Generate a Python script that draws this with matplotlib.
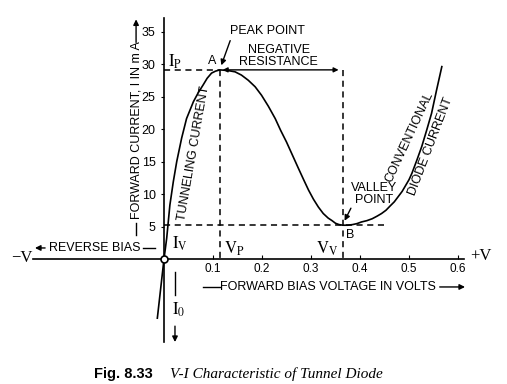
import matplotlib
matplotlib.use('Agg')
import matplotlib.pyplot as plt

plt.rcParams['mathtext.fontset'] = 'stix'
sans = ['Liberation Sans', 'DejaVu Sans']
serif = ['Liberation Serif', 'DejaVu Serif']

# V-I curve of the tunnel diode (volts, mA)
volts = [-0.0136, 0.0, 0.0055, 0.012, 0.019, 0.026, 0.036, 0.046, 0.060, 0.070, 0.080,
         0.088, 0.097, 0.105, 0.114, 0.130, 0.145, 0.158, 0.172, 0.186, 0.199,
         0.213, 0.227, 0.238, 0.250, 0.262, 0.274, 0.285, 0.295, 0.305, 0.315,
         0.325, 0.335, 0.343, 0.350, 0.357, 0.365, 0.375, 0.385, 0.394, 0.403,
         0.414, 0.425, 0.435, 0.444, 0.453, 0.462, 0.470, 0.478, 0.486, 0.493,
         0.500, 0.506, 0.516, 0.526, 0.536, 0.546, 0.556, 0.567]
current = [-9.1, 0.0, 3.2, 8.3, 11.9, 15.0, 18.6, 21.6, 24.2, 25.6, 26.8,
           27.8, 28.6, 28.9, 29.1, 29.0, 28.8, 28.3, 27.5, 26.5, 25.2,
           23.5, 21.6, 19.8, 18.0, 16.0, 14.0, 12.2, 10.6, 9.2, 8.0,
           7.0, 6.3, 5.9, 5.5, 5.3, 5.2, 5.2, 5.3, 5.45, 5.7,
           5.9, 6.2, 6.6, 7.0, 7.5, 8.2, 8.8, 9.6, 10.4, 11.3,
           12.2, 13.2, 15.2, 17.3, 19.8, 22.4, 25.9, 29.6]

v_peak, i_peak = 0.114, 29.1
v_valley, i_valley = 0.365, 5.2

x_ticks = [0.1, 0.2, 0.3, 0.4, 0.5, 0.6]
x_labels = ['0.1', '0.2', '0.3', '0.4', '0.5', '0.6']
y_ticks = [5, 10, 15, 20, 25, 30, 35]

fig = plt.figure(figsize=(5.07, 3.84), dpi=100)
ax = fig.add_axes([0, 0, 1, 1])
ax.set_xlim(-0.3347, 0.7)
ax.set_ylim(-19.23, 39.85)

# axes through the origin
for side in ['top', 'right']:
    ax.spines[side].set_visible(False)
ax.spines['left'].set_position(('data', 0))
ax.spines['bottom'].set_position(('data', 0))
ax.spines['left'].set_bounds(-12.8, 37.1)
ax.spines['bottom'].set_bounds(-0.267, 0.612)
ax.spines['left'].set_linewidth(1.2)
ax.spines['bottom'].set_linewidth(1.2)

ax.set_xticks(x_ticks)
ax.set_xticklabels(x_labels, fontsize=8.5, family=sans)
ax.set_yticks(y_ticks)
ax.set_yticklabels([str(t) for t in y_ticks], fontsize=9, family=sans)
ax.tick_params(axis='x', direction='in', length=3, pad=3)
ax.tick_params(axis='y', direction='out', length=2, pad=4)

# characteristic
ax.plot(volts, current, color='black', lw=1.2, zorder=3)
ax.plot([0], [0], 'o', ms=5, mfc='white', mec='black', mew=1.2, zorder=5)

# dashed guides
dash = dict(color='black', lw=1.1, ls=(0, (4, 3)))
ax.plot([0, v_peak], [i_peak, i_peak], **dash)
ax.plot([v_peak, v_peak], [i_peak, 0], **dash)
ax.plot([v_valley, v_valley], [i_peak, 0], **dash)
ax.plot([0, 0.452], [i_valley, i_valley], **dash)

arrow = dict(arrowstyle='-|>', color='black', lw=1.0, mutation_scale=8)
# negative resistance span
ax.annotate('', xy=(v_valley - 0.003, i_peak), xytext=(v_peak, i_peak),
            arrowprops=dict(arrowstyle='<|-|>', color='black', lw=1.0, mutation_scale=7))
ax.annotate('', xy=(v_peak + 0.001, i_peak + 0.3), xytext=(0.137, 34.0), arrowprops=arrow)
ax.annotate('', xy=(v_valley + 0.001, i_valley + 0.3), xytext=(0.384, 8.2), arrowprops=arrow)

txt = dict(family=sans, fontsize=9, ha='center', va='center', color='black')
ax.text(0.212, 35.1, 'PEAK POINT', **txt)
ax.text(0.234, 31.3, 'NEGATIVE\nRESISTANCE', linespacing=1.0, **txt)
ax.text(0.098, 30.4, 'A', **txt)
ax.text(0.380, 3.7, 'B', **txt)
ax.text(0.429, 10.0, 'VALLEY\nPOINT', linespacing=1.0, **txt)
ax.text(0.060, 16.3, 'TUNNELING CURRENT', rotation=80, **txt)
ax.text(0.500, 18.8, 'CONVENTIONAL', rotation=65, **txt)
ax.text(0.544, 17.3, 'DIODE CURRENT', rotation=69, **txt)
ax.text(-0.141, 1.7, 'REVERSE BIAS', **txt)
ax.text(0.335, -4.3, 'FORWARD BIAS VOLTAGE IN VOLTS', **txt)
ax.text(-0.057, 19.8, 'FORWARD CURRENT, I IN m A', rotation=90, **txt)

# arrows and dashes around the axis titles
ax.annotate('', xy=(-0.269, 1.7), xytext=(-0.237, 1.7), arrowprops=arrow)
ax.plot([-0.043, -0.018], [1.7, 1.7], color='black', lw=1.0)
ax.annotate('', xy=(0.620, -4.3), xytext=(0.557, -4.3), arrowprops=arrow)
ax.plot([0.080, 0.114], [-4.3, -4.3], color='black', lw=1.0)
ax.annotate('', xy=(-0.057, 37.3), xytext=(-0.057, 32.9), arrowprops=arrow)
ax.plot([-0.057, -0.057], [3.7, 5.5], color='black', lw=1.0)
# I0 arrow, broken around its label
ax.plot([0.0224, 0.0224], [-2.0, -5.6], color='black', lw=1.0)
ax.annotate('', xy=(0.0224, -13.2), xytext=(0.0224, -9.9), arrowprops=arrow)

# serif symbols
sym = dict(fontsize=12, ha='center', va='center', color='black')
ax.text(0.022, 30.4, r'$\mathrm{I}_{\mathrm{P}}$', **sym)
ax.text(0.033, 2.4, r'$\mathrm{I}_{\mathrm{V}}$', **sym)
ax.text(0.143, 1.6, r'$\mathrm{V}_{\mathrm{P}}$', **sym)
ax.text(0.333, 1.6, r'$\mathrm{V}_{\mathrm{V}}$', **sym)
ax.text(0.029, -7.8, r'$\mathrm{I}_{0}$', **sym)
ax.text(-0.290, 0.1, '\u2212V', family=serif, fontsize=12, ha='center', va='center')
ax.text(0.647, 0.5, '+V', family=serif, fontsize=12, ha='center', va='center')

# caption
fig.text(0.243, 0.026, 'Fig. 8.33', family=['Liberation Sans Narrow', 'Liberation Sans'],
         fontweight='bold', fontsize=10.5, ha='center', va='center')
fig.text(0.335, 0.026, 'V-I Characteristic of Tunnel Diode', family=serif,
         style='italic', fontsize=11, ha='left', va='center')

fig.savefig('out.png', dpi=100)
